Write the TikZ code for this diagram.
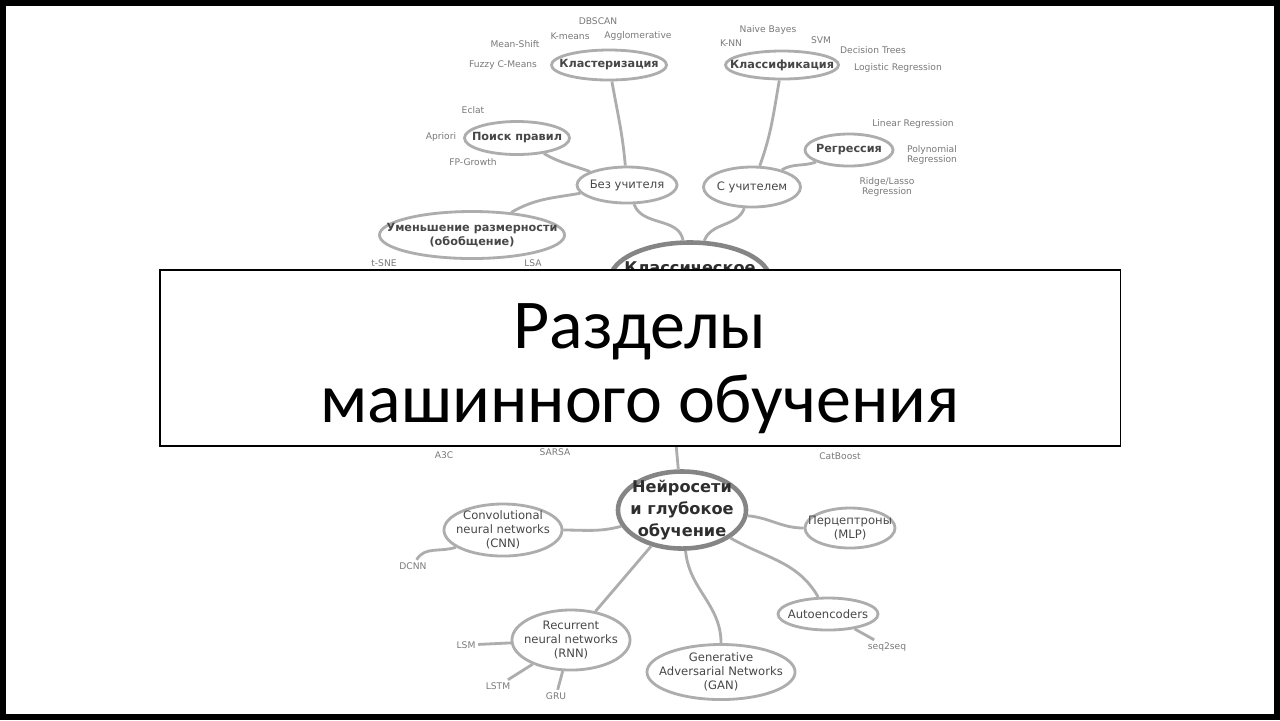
\documentclass[tikz,border=0pt]{standalone}
\usepackage{fontspec}
\setmainfont{Carlito}
\newfontfamily\mapfont{DejaVu Sans}
\usepackage{xcolor}
\usepackage{tikz}
\usetikzlibrary{shapes.geometric, positioning}

\tikzset{
  mapnode/.style={ellipse, draw=black!32, line width=0.8pt, inner sep=-1cm, align=center,
    text=black!72, font=\mapfont\bfseries\fontsize{3.2}{3.8}\selectfont},
  plainnode/.style={mapnode, font=\mapfont\fontsize{3.3}{3.9}\selectfont},
  bignode/.style={mapnode, line width=1.3pt, draw=black!48, text=black!82,
    font=\mapfont\bfseries\fontsize{4.6}{6.2}\selectfont},
  leaf/.style={inner sep=0.6pt, align=center, text=black!52,
    font=\mapfont\fontsize{2.6}{3}\selectfont},
  link/.style={draw=black!32, line width=0.8pt},
  titletext/.style={font=\fontsize{19.9}{24}\selectfont, text=black},
}

\begin{document}
\begin{tikzpicture}[x=0.01cm, y=-0.01cm]

    \useasboundingbox (0,0) rectangle (1280,720);
    \fill[white] (0,0) rectangle (1280,720);

    % classical learning
    \node[plainnode, minimum width=1cm, minimum height=0.36cm] (uns) at (627,185) {Без учителя};
    \node[plainnode, minimum width=0.97cm, minimum height=0.4cm] (sup) at (752,187) {С учителем};
    \node[mapnode, minimum width=1.15cm, minimum height=0.3cm] (clu) at (609,65) {Кластеризация};
    \node[mapnode, minimum width=1.13cm, minimum height=0.28cm] (cls) at (782,65) {Классификация};
    \node[mapnode, minimum width=1.05cm, minimum height=0.33cm] (rul) at (517,138) {Поиск правил};
    \node[mapnode, minimum width=0.88cm, minimum height=0.32cm] (reg) at (849,150) {Регрессия};
    \node[mapnode, minimum width=1.85cm, minimum height=0.47cm] (dim) at (472,235) {Уменьшение размерности\\(обобщение)};
    \node[bignode, minimum width=1.6cm, minimum height=0.75cm] (cla) at (690,280) {Классическое\\обучение};

    \node[leaf] (dbscan) at (598,21) {DBSCAN};
    \node[leaf] (kmeans) at (570,36) {K-means};
    \node[leaf] (aggl) at (638,36) {Agglomerative};
    \node[leaf] (mshift) at (515,44) {Mean-Shift};
    \node[leaf] (fuzzy) at (503,65) {Fuzzy C-Means};
    \node[leaf] (bayes) at (768,30) {Naive Bayes};
    \node[leaf] (knn) at (731,43) {K-NN};
    \node[leaf] (svm) at (821,40) {SVM};
    \node[leaf] (trees) at (873,50) {Decision Trees};
    \node[leaf] (logreg) at (898,68) {Logistic Regression};
    \node[leaf] (eclat) at (473,110) {Eclat};
    \node[leaf] (apriori) at (441,137) {Apriori};
    \node[leaf] (fpg) at (473,162) {FP-Growth};
    \node[leaf] (linreg) at (913,124) {Linear Regression};
    \node[leaf] (polreg) at (932,155) {Polynomial\\Regression};
    \node[leaf] (ridge) at (887,187) {Ridge/Lasso\\Regression};
    \node[leaf] (tsne) at (384,263) {t-SNE};
    \node[leaf] (lsa) at (533,263) {LSA};
    \node[leaf] (a3c) at (444,455) {A3C};
    \node[leaf] (sarsa) at (555,452) {SARSA};
    \node[leaf] (catb) at (840,456) {CatBoost};

    \draw[link] (clu) to[out=-80, in=95] (uns);
    \draw[link] (cls) to[out=-100, in=70] (sup);
    \draw[link] (rul) to[out=-30, in=160] (uns);
    \draw[link] (uns) to[out=190, in=30] (dim);
    \draw[link] (uns) to[out=-70, in=100] (cla);
    \draw[link] (sup) to[out=-110, in=70] (cla);
    \draw[link] (sup) to[out=30, in=200] (reg);

    % neural networks
    \coordinate (ctr) at (672,400);
    \node[bignode, minimum width=1.28cm, minimum height=0.77cm] (nn) at (682,510) {Нейросети\\и глубокое\\обучение};
    \node[plainnode, minimum width=1.18cm, minimum height=0.52cm] (cnn) at (503,530) {Convolutional\\neural networks\\(CNN)};
    \node[plainnode, minimum width=0.9cm, minimum height=0.4cm] (mlp) at (850,528) {Перцептроны\\(MLP)};
    \node[plainnode, minimum width=1.18cm, minimum height=0.6cm] (rnn) at (571,640) {Recurrent\\neural networks\\(RNN)};
    \node[plainnode, minimum width=1cm, minimum height=0.32cm] (aut) at (828,614) {Autoencoders};
    \node[plainnode, minimum width=1.48cm, minimum height=0.55cm] (gan) at (721,672) {Generative\\Adversarial Networks\\(GAN)};

    \node[leaf] (dcnn) at (413,566) {DCNN};
    \node[leaf] (lsm) at (466,645) {LSM};
    \node[leaf] (lstm) at (498,686) {LSTM};
    \node[leaf] (gru) at (556,696) {GRU};
    \node[leaf] (seq) at (887,647) {seq2seq};

    \draw[link] (nn) -- (ctr);
    \draw[link] (nn) to[out=195, in=0] (cnn);
    \draw[link] (nn) -- (rnn);
    \draw[link] (nn) to[out=-85, in=90] (gan);
    \draw[link] (nn) to[out=-30, in=120] (aut);
    \draw[link] (nn) to[out=-5, in=180] (mlp);
    \draw[link] (cnn) to[out=200, in=60] (dcnn);
    \draw[link] (rnn) -- (lsm);
    \draw[link] (rnn) -- (lstm);
    \draw[link] (rnn) -- (gru);
    \draw[link] (aut) -- (seq);

    % title box
    \node[draw=black, line width=0.45pt, fill=white, minimum width=9.6cm, minimum height=1.76cm] (box) at (640,358) {};
    \node[titletext, anchor=base] (line1) at (640,348) {Разделы};
    \node[titletext, anchor=base] (line2) at (640,422) {машинного обучения};

    \draw[line width=0.06cm] (3,3) rectangle (1277,717);

\end{tikzpicture}
\end{document}
